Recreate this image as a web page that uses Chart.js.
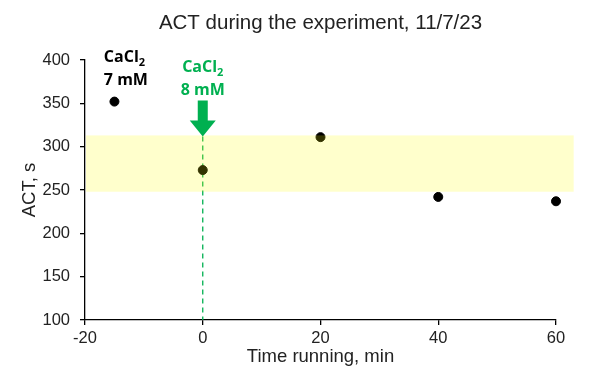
<!DOCTYPE html>
<html>
<head>
<meta charset="utf-8">
<script src="https://cdn.jsdelivr.net/npm/chart.js@4"></script>
<style>
  html, body { margin: 0; padding: 0; background: #fff; }
  #wrap { width: 600px; height: 384px; }
</style>
</head>
<body>
<div id="wrap"><canvas id="actChart"></canvas></div>
<script>
// Data
const times = [-15, 0, 20, 40, 60];          // min
const actValues = [352, 273, 311, 242, 237]; // s
const xTickValues = [-20, 0, 20, 40, 60];
const yTickValues = [100, 150, 200, 250, 300, 350, 400];
const normalRange = [248, 313];   // yellow target band, s
const bandSpan = [-20, 63];       // band runs a little past the last tick
const doseTime = 0;               // CaCl2 raised to 8 mM here

const green = '#00B050';

// Band, dashed marker line, arrow and notes
const overlayPlugin = {
    id: 'overlay',
    beforeDatasetsDraw(chart) {
        const { ctx, scales: { x, y } } = chart;
        const px = x.getPixelForValue(doseTime);
        const tip = y.getPixelForValue(normalRange[1]) + 1;
        ctx.save();
        ctx.strokeStyle = green;
        ctx.lineWidth = 1.3;
        ctx.setLineDash([5, 4]);
        ctx.beginPath();
        ctx.moveTo(px, tip);
        ctx.lineTo(px, y.getPixelForValue(100));
        ctx.stroke();
        ctx.restore();
    },
    afterDatasetsDraw(chart) {
        const { ctx, scales: { x, y }, chartArea } = chart;
        ctx.save();
        // translucent band over the points
        const bx0 = x.getPixelForValue(bandSpan[0]);
        const bx1 = x.getPixelForValue(bandSpan[1]);
        const by0 = y.getPixelForValue(normalRange[1]);
        const by1 = y.getPixelForValue(normalRange[0]);
        ctx.fillStyle = 'rgba(255, 255, 0, 0.2)';
        ctx.fillRect(bx0 + 1, by0, bx1 - bx0 - 1, by1 - by0);

        // arrow
        const px = x.getPixelForValue(doseTime);
        const tip = by0 + 1;
        ctx.fillStyle = green;
        ctx.beginPath();
        ctx.moveTo(px - 5, tip - 36);
        ctx.lineTo(px + 5, tip - 36);
        ctx.lineTo(px + 5, tip - 16);
        ctx.lineTo(px + 13, tip - 16);
        ctx.lineTo(px, tip);
        ctx.lineTo(px - 13, tip - 16);
        ctx.lineTo(px - 5, tip - 16);
        ctx.closePath();
        ctx.fill();

        // notes
        const note = (left, base, color, center) => {
            ctx.fillStyle = color;
            ctx.textBaseline = 'alphabetic';
            ctx.font = 'bold 16px "Open Sans"';
            const w1 = ctx.measureText('CaCl').width;
            ctx.font = 'bold 11px "Open Sans"';
            const w2 = ctx.measureText('2').width;
            ctx.font = 'bold 16px "Open Sans"';
            const w3 = ctx.measureText('8 mM').width;
            let lx = left, lx2 = left;
            if (center) {
                lx = left - (w1 + w2) / 2;
                lx2 = left - w3 / 2;
            }
            ctx.textAlign = 'left';
            ctx.fillText('CaCl', lx, base);
            ctx.font = 'bold 11px "Open Sans"';
            ctx.fillText('2', lx + w1, base + 4);
            ctx.font = 'bold 16px "Open Sans"';
            return lx2;
        };
        const bx = x.getPixelForValue(-16.8);
        note(bx, 62, '#000', false);
        ctx.fillText('7 mM', bx, 85);
        const gx = note(px, 72, green, true);
        ctx.fillText('8 mM', gx, 95);

        // chart title centred over the plot
        ctx.fillStyle = '#222';
        ctx.font = '20.5px "Liberation Sans", Arial';
        ctx.textAlign = 'center';
        ctx.textBaseline = 'middle';
        ctx.fillText('ACT during the experiment, 11/7/23', (chartArea.left + chartArea.right) / 2, 23);
        ctx.restore();
    }
};

const ctx = document.getElementById('actChart').getContext('2d');
const chart = new Chart(ctx, {
    type: 'scatter',
    data: {
        datasets: [{
            label: 'ACT',
            data: times.map((t, i) => ({ x: t, y: actValues[i] })),
            backgroundColor: '#000',
            borderColor: '#000',
            pointRadius: 4.5,
            pointHoverRadius: 4.5,
            clip: false
        }]
    },
    options: {
        responsive: true,
        maintainAspectRatio: false,
        animation: false,
        layout: { padding: { top: 60, right: 44, left: 0, bottom: 0 } },
        plugins: {
            legend: { display: false },
            tooltip: { enabled: false }
        },
        scales: {
            x: {
                type: 'linear',
                min: -20,
                max: 60,
                afterBuildTicks: s => { s.ticks = xTickValues.map(v => ({ value: v })); },
                afterFit: s => { s.height = 64; },
                grid: { drawOnChartArea: false, tickLength: 5, color: '#000', lineWidth: 1.3 },
                border: { color: '#000', width: 1.3 },
                ticks: { color: '#222', padding: 4, font: { family: '"Liberation Sans", Arial', size: 16.5 } },
                title: {
                    display: true,
                    text: 'Time running, min',
                    color: '#222',
                    font: { family: '"Liberation Sans", Arial', size: 18.5 },
                    padding: { top: 0, bottom: 16 }
                }
            },
            y: {
                min: 100,
                max: 400,
                afterBuildTicks: s => { s.ticks = yTickValues.map(v => ({ value: v })); },
                afterFit: s => { s.width = 85; },
                grid: { drawOnChartArea: false, tickLength: 5, color: '#000', lineWidth: 1.3 },
                border: { color: '#000', width: 1.3 },
                ticks: { color: '#222', padding: 10, font: { family: '"Liberation Sans", Arial', size: 16.5 } },
                title: {
                    display: true,
                    text: 'ACT, s',
                    color: '#222',
                    font: { family: '"Liberation Sans", Arial', size: 18.5 },
                    padding: { top: 19, bottom: 0 }
                }
            }
        }
    },
    plugins: [overlayPlugin]
});
</script>
</body>
</html>
